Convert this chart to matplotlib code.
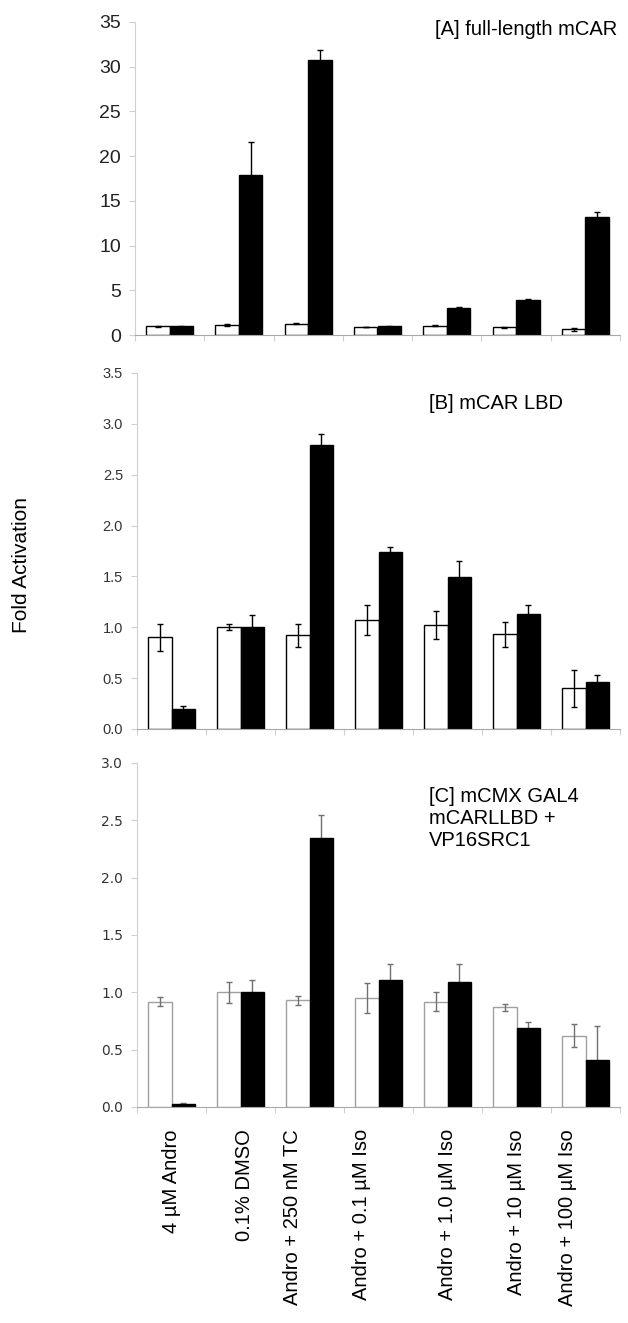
import matplotlib
matplotlib.use('Agg')
import matplotlib.pyplot as plt
import matplotlib.transforms as mtransforms
import numpy as np

plt.rcParams['font.family'] = ['Liberation Sans', 'DejaVu Sans']

treatments = ['4 \u00b5M Andro', '0.1% DMSO', 'Andro + 250 nM TC', 'Andro + 0.1 \u00b5M Iso',
              'Andro + 1.0 \u00b5M Iso', 'Andro + 10 \u00b5M Iso', 'Andro + 100 \u00b5M Iso']

# [A] full-length mCAR
a_white = [1.0, 1.15, 1.25, 0.9, 1.05, 0.88, 0.65]
a_white_err = [0.05, 0.1, 0.05, 0.05, 0.05, 0.05, 0.15]
a_black = [1.0, 17.85, 30.7, 0.97, 3.05, 3.95, 13.2]
a_black_err = [0.05, 3.75, 1.2, 0.05, 0.1, 0.1, 0.5]

# [B] mCAR LBD
b_white = [0.90, 1.00, 0.92, 1.07, 1.02, 0.93, 0.40]
b_white_err = [0.13, 0.03, 0.11, 0.15, 0.14, 0.12, 0.18]
b_black = [0.20, 1.00, 2.79, 1.74, 1.49, 1.13, 0.46]
b_black_err = [0.03, 0.12, 0.11, 0.05, 0.16, 0.09, 0.07]

# [C] mCMX GAL4 mCARLLBD + VP16SRC1
c_white = [0.92, 1.00, 0.93, 0.95, 0.92, 0.87, 0.62]
c_white_err = [0.04, 0.09, 0.04, 0.13, 0.08, 0.03, 0.10]
c_black = [0.03, 1.00, 2.35, 1.11, 1.09, 0.69, 0.41]
c_black_err = [0.005, 0.11, 0.20, 0.14, 0.16, 0.05, 0.30]

# the original's rotated labels are not all centred on their groups (pixels)
label_shift = [0, 4, -17, -17, 0, 0, -18]

W, H = 628, 1323
fig = plt.figure(figsize=(W / 100, H / 100), dpi=100)

def box(left, top, right, bottom):
    return [left / W, 1 - bottom / H, (right - left) / W, (bottom - top) / H]

x = np.arange(len(treatments))
bw = 0.34

def panel(ax, white, werr, black, berr, ymax, step, fmt, edge, ecol, tfs, tfam, tcol):
    ax.bar(x - bw / 2, white, bw, color='white', edgecolor=edge, linewidth=1.0, zorder=2)
    ax.bar(x + bw / 2, black, bw, color='black', edgecolor='black', linewidth=1.0, zorder=2)
    ax.errorbar(x - bw / 2, white, yerr=werr, fmt='none', ecolor=ecol, elinewidth=1.0,
                capsize=2.5, capthick=1.0, zorder=3)
    ax.errorbar(x + bw / 2, black, yerr=berr, fmt='none', ecolor=ecol, elinewidth=1.0,
                capsize=2.5, capthick=1.0, zorder=1)
    ax.set_xlim(-0.5, len(treatments) - 0.5)
    ax.set_ylim(0, ymax)
    ticks = np.arange(0, ymax + step / 2, step)
    ax.set_yticks(ticks)
    ax.set_yticklabels([fmt.format(t) for t in ticks], fontsize=tfs, family=tfam, color=tcol)
    ax.set_xticks(np.arange(-0.5, len(treatments)))
    ax.set_xticklabels([])
    for s in ['top', 'right']:
        ax.spines[s].set_visible(False)
    ax.spines['left'].set_color('#d0d0d0')
    ax.spines['bottom'].set_color('#a8a8a8')
    ax.tick_params(axis='y', length=4, color='#d0d0d0', pad=6)
    ax.tick_params(axis='x', which='major', length=4, color='#d0d0d0')

axA = fig.add_axes(box(135, 22, 620, 335))
panel(axA, a_white, a_white_err, a_black, a_black_err, 35, 5, '{:.0f}', 'black', 'black',
      14, ['Liberation Sans'], '#222222')
axA.text(0.995, 1.005, '[A] full-length mCAR', transform=axA.transAxes, ha='right', va='top',
         fontsize=14.5)

axB = fig.add_axes(box(137, 373, 620, 729))
panel(axB, b_white, b_white_err, b_black, b_black_err, 3.5, 0.5, '{:.1f}', 'black', 'black',
      10.5, ['Liberation Sans'], '#333333')
axB.text(0.605, 0.94, '[B] mCAR LBD', transform=axB.transAxes, ha='left', va='top',
         fontsize=14.5)

axC = fig.add_axes(box(137, 763, 620, 1107))
panel(axC, c_white, c_white_err, c_black, c_black_err, 3.0, 0.5, '{:.1f}', '#a0a0a0', '#707070',
      10, ['DejaVu Sans'], '#333333')
axC.text(0.605, 0.93, '[C] mCMX GAL4\nmCARLLBD +\nVP16SRC1', transform=axC.transAxes,
         ha='left', va='top', fontsize=14.5, linespacing=1.2)
axC.set_xticks(x, minor=True)
axC.set_xticklabels(treatments, minor=True, rotation=90, fontsize=14.5, va='top', ha='center')
axC.tick_params(axis='x', which='minor', length=0, pad=16)
for lab, dx in zip(axC.get_xticklabels(minor=True), label_shift):
    lab.set_transform(lab.get_transform() + mtransforms.ScaledTranslation(dx / 100, 0, fig.dpi_scale_trans))

fig.text(22 / W, 1 - 565 / H, 'Fold Activation', rotation=90, ha='center', va='center',
         fontsize=15)

fig.savefig('out.png', dpi=100)
